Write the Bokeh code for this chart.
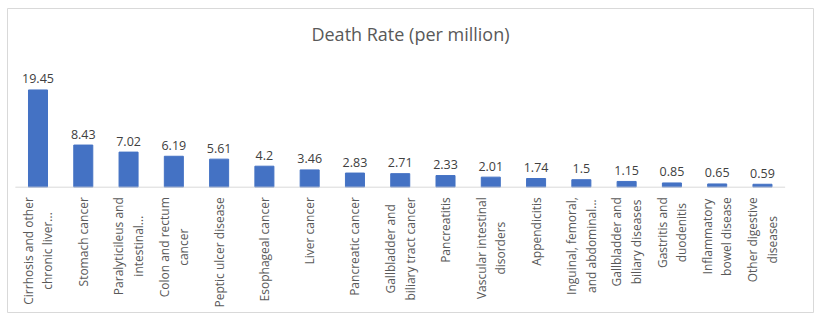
from math import pi
import glob
import subprocess
import numpy as np
from bokeh.plotting import figure
from bokeh.models import Range1d, ColumnDataSource
from bokeh.core.properties import value
from bokeh.embed import file_html
from bokeh.resources import INLINE

title_text = "Death Rate (per million)"
categories = [
    "Cirrhosis and other\nchronic liver...",
    "Stomach cancer",
    "Paralyticileus and\nintestinal...",
    "Colon and rectum\ncancer",
    "Peptic ulcer disease",
    "Esophageal cancer",
    "Liver cancer",
    "Pancreatic cancer",
    "Gallbladder and\nbiliary tract cancer",
    "Pancreatitis",
    "Vascular intestinal\ndisorders",
    "Appendicitis",
    "Inguinal, femoral,\nand abdominal...",
    "Gallbladder and\nbiliary diseases",
    "Gastritis and\nduodenitis",
    "Inflammatory\nbowel disease",
    "Other digestive\ndiseases",
]
values = [19.45, 8.43, 7.02, 6.19, 5.61, 4.2, 3.46, 2.83, 2.71, 2.33, 2.01, 1.74, 1.5, 1.15, 0.85, 0.65, 0.59]
value_labels = ["19.45", "8.43", "7.02", "6.19", "5.61", "4.2", "3.46", "2.83", "2.71", "2.33", "2.01", "1.74", "1.5", "1.15", "0.85", "0.65", "0.59"]

LABEL_PX = 12


def make_measure():
    path = None
    try:
        path = subprocess.run(["fc-match", "-f", "%{file}", "Open Sans"], capture_output=True,
                              text=True, timeout=10).stdout.strip() or None
    except Exception:
        path = None
    if not path:
        found = sorted(glob.glob("/usr/share/fonts/**/OpenSans*.ttf", recursive=True))
        path = found[0] if found else None
    try:
        from PIL import ImageFont
        font = ImageFont.truetype(path, LABEL_PX)
        return lambda s: font.getlength(s)
    except Exception:
        return lambda s: len(s) * LABEL_PX * 0.53


measure = make_measure()
block_len = [max(measure(line) for line in c.split("\n")) for c in categories]

n = len(categories)
xs = np.arange(n)
src = ColumnDataSource(dict(x=xs, top=values, lab=value_labels, cat=categories, zero=[0] * n,
                            off=[10 + L / 2 for L in block_len]))

x_start, x_end = -0.6736, 17.127
y_start, y_end = -25.06, 35.74

p = figure(width=821, height=321, output_backend="svg", toolbar_location=None,
           x_range=Range1d(x_start, x_end), y_range=Range1d(y_start, y_end),
           min_border_left=7, min_border_right=8, min_border_top=8, min_border_bottom=9)
p.axis.visible = False
p.grid.visible = False
p.outline_line_color = "#d9d9d9"
p.outline_line_width = 1
p.background_fill_color = "white"
p.border_fill_color = "white"

FONT = value("Open Sans")

p.vbar(x="x", top="top", bottom=0, width=0.42, source=src, fill_color="#4472C4", line_color="#4472C4")
p.segment(x0=[-0.5], x1=[n - 0.5], y0=[0], y1=[0], line_color="#d9d9d9", line_width=1)

p.text(x="x", y="top", text="lab", source=src, text_font=FONT, text_font_size="12.5px",
       text_color="#404040", text_align="center", text_baseline="alphabetic", y_offset=-11)

p.text(x="x", y="zero", text="cat", source=src, text_font=FONT, text_font_size=f"{LABEL_PX}px",
       text_color="#595959", text_align="center", text_baseline="middle", angle=pi / 2,
       y_offset="off", text_line_height=1.15)

p.text(x=[(x_start + x_end) / 2], y=[30.7], text=[title_text], text_font=FONT, text_font_size="18px",
       text_color="#595959", text_align="center", text_baseline="middle")

open("out.html", "w").write(file_html(p, INLINE))
